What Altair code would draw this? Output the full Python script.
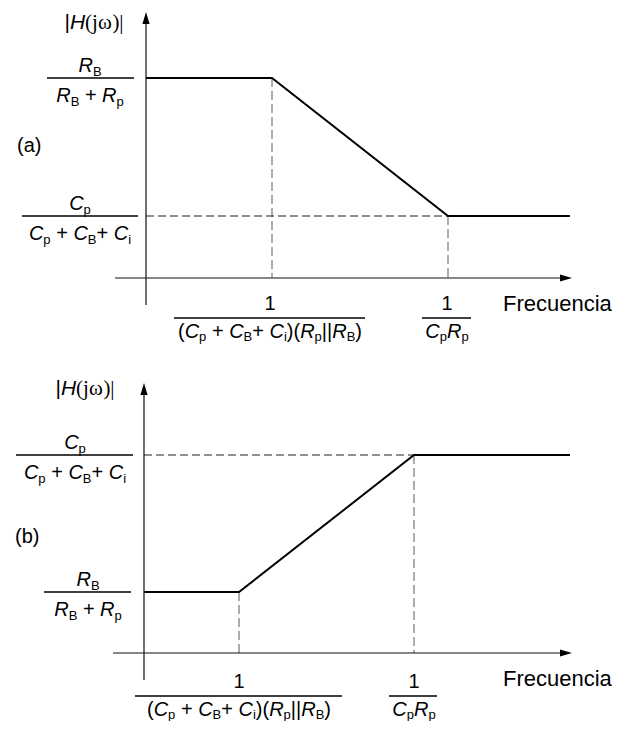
import altair as alt
import pandas as pd

# ---------------- canvas ----------------
W, H = 621, 713
M = 8
FONT = "Liberation Sans"
SERIF = "Liberation Serif"

# ---------------- diagram data (figure units) ----------------
panels = ["a", "b"]
panel_tags = ["(a)", "(b)"]
yaxis_x = [146, 144]
yaxis_bottom = [305, 680]
yaxis_top = [12, 383]
xaxis_y = [278, 653]
xaxis_left = [115, 113]
xaxis_right = [572, 572]
# asymptotic |H| curve: start, break 1, break 2, end
curve_x = [[146, 272, 448, 570], [144, 239, 414, 570]]
curve_y = [[78, 78, 216, 216], [592, 592, 455, 455]]

# ---------------- text content ----------------
H_LABEL = [("|", "n"), ("H", "i"), ("(j", "r"), ("\u03c9", "r"), (")|", "r")]
RB_NUM = [("R", "i"), ("B", "s")]
RB_DEN = [("R", "i"), ("B", "s"), (" + ", "n"), ("R", "i"), ("p", "s")]
CP_NUM = [("C", "i"), ("p", "s")]
CP_DEN = [("C", "i"), ("p", "s"), (" + ", "n"), ("C", "i"), ("B", "s"),
          ("+ ", "n"), ("C", "i"), ("i", "s")]
ONE = [("1", "n")]
F1_DEN = [("(", "n"), ("C", "i"), ("p", "s"), (" + ", "n"), ("C", "i"), ("B", "s"),
          ("+ ", "n"), ("C", "i"), ("i", "s"), (")(", "n"), ("R", "i"), ("p", "s"),
          ("||", "n"), ("R", "i"), ("B", "s"), (")", "n")]
F2_DEN = [("C", "i"), ("p", "s"), ("R", "i"), ("p", "s")]
x_title = "Frecuencia"

# level labels per panel: (numerator, denominator, centre x, bar y, bar x0, bar x1)
level_labels = [
    [(RB_NUM, RB_DEN, 90, 78, 47, 134), (CP_NUM, CP_DEN, 80, 216, 22, 138)],
    [(CP_NUM, CP_DEN, 75, 455, 16, 133), (RB_NUM, RB_DEN, 88, 592, 44, 131)],
]
# frequency labels per panel: (denominator, centre x, bar y, bar x0, bar x1)
freq_labels = [
    [(F1_DEN, 270, 318, 174, 365), (F2_DEN, 447, 318, 422, 471)],
    [(F1_DEN, 239, 696, 135, 342), (F2_DEN, 414, 696, 389, 437)],
]
hlabel_pos = [(94, 29), (85, 395)]
tag_pos = [(17, 152), (15, 543)]
xtitle_pos = [(503, 311), (503, 686)]

# ---------------- text layout helpers ----------------
SANS_W = {" ": 278, "(": 333, ")": 333, "+": 584, "1": 556, "|": 260, "B": 667,
          "C": 722, "H": 722, "R": 722, "p": 556, "i": 222, "j": 222, "a": 556,
          "b": 556}
SERIF_W = {"(": 333, ")": 333, "j": 278, "\u03c9": 690, "|": 200, " ": 250}
MAIN, SUB, SUB_DY = 20, 13, 4


def piece_width(t, size, style):
    table = SERIF_W if style == "r" else SANS_W
    return sum(table.get(c, 556) for c in t) * size / 1000.0


def layout(pieces, cx, baseline, size=MAIN, sub_dy=SUB_DY):
    sizes = [SUB if st == "s" else size for _, st in pieces]
    total = sum(piece_width(t, s, st) for (t, st), s in zip(pieces, sizes))
    x = cx - total / 2.0
    rows = []
    for (t, st), s in zip(pieces, sizes):
        lead = len(t) - len(t.lstrip(" "))
        core = t.strip(" ")
        if core:
            rows.append(dict(x=x + piece_width(" " * lead, s, st),
                             y=baseline + (sub_dy if st == "s" else 0),
                             text=core, size=s, style=st))
        x += piece_width(t, s, st)
    return rows


text_rows = []
bars = []
for p in range(2):
    text_rows += layout(H_LABEL, *hlabel_pos[p], size=21)
    text_rows.append(dict(x=tag_pos[p][0], y=tag_pos[p][1], text=panel_tags[p],
                          size=MAIN, style="n"))
    text_rows.append(dict(x=xtitle_pos[p][0], y=xtitle_pos[p][1], text=x_title,
                          size=22, style="n"))
    for num, den, cx, by, x0, x1 in level_labels[p]:
        text_rows += layout(num, cx, by - 6)
        text_rows += layout(den, cx, by + 24)
        bars.append(dict(x=x0, y=by, x2=x1, y2=by))
    for den, cx, by, x0, x1 in freq_labels[p]:
        text_rows += layout(ONE, cx, by - 8)
        text_rows += layout(den, cx, by + 20, sub_dy=3)
        bars.append(dict(x=x0, y=by, x2=x1, y2=by))

tdf = pd.DataFrame(text_rows)

# ---------------- geometry tables ----------------
curve_rows = []
axis_rows = []
hdash_rows = []
vdash_rows = []
arrow_up = []
arrow_right = []
for p in range(2):
    for k, (cx, cy) in enumerate(zip(curve_x[p], curve_y[p])):
        curve_rows.append(dict(panel=panels[p], order=k, x=cx, y=cy))
    axis_rows.append(dict(x=yaxis_x[p], y=yaxis_bottom[p], x2=yaxis_x[p], y2=yaxis_top[p] + 8))
    axis_rows.append(dict(x=xaxis_left[p], y=xaxis_y[p], x2=xaxis_right[p] - 8, y2=xaxis_y[p]))
    hdash_rows.append(dict(x=yaxis_x[p], y=curve_y[p][2], x2=curve_x[p][2], y2=curve_y[p][2]))
    for k in (1, 2):
        vdash_rows.append(dict(x=curve_x[p][k], y=curve_y[p][k], x2=curve_x[p][k], y2=xaxis_y[p]))
    arrow_up.append(dict(x=yaxis_x[p], y=yaxis_top[p] + 6))
    arrow_right.append(dict(x=xaxis_right[p] - 6, y=xaxis_y[p]))

X = alt.X("x:Q", scale=alt.Scale(domain=[M, M + W], nice=False, zero=False), axis=None)
Y = alt.Y("y:Q", scale=alt.Scale(domain=[M, M + H], nice=False, zero=False, reverse=True), axis=None)


def seg_layer(rows, color, width, dash=None):
    kw = dict(color=color, strokeWidth=width)
    if dash:
        kw["strokeDash"] = dash
    return alt.Chart(pd.DataFrame(rows)).mark_rule(**kw).encode(
        x=X, y=Y, x2="x2:Q", y2="y2:Q")


axes = seg_layer(axis_rows, "#111111", 1.2)
hdash = seg_layer(hdash_rows, "#222222", 1.1, [8, 4])
vdash = seg_layer(vdash_rows, "#808080", 1.3, [9, 4])
fbars = seg_layer(bars, "#000000", 1.7)

curve = alt.Chart(pd.DataFrame(curve_rows)).mark_line(
    color="#000000", strokeWidth=2).encode(x=X, y=Y, detail="panel:N", order="order:Q")

up = alt.Chart(pd.DataFrame(arrow_up)).mark_point(
    shape="M0,-1L0.6,1L-0.6,1Z", filled=True, size=144, color="#000000",
    opacity=1, strokeWidth=0).encode(x=X, y=Y)
right = alt.Chart(pd.DataFrame(arrow_right)).mark_point(
    shape="M1,0L-1,0.6L-1,-0.6Z", filled=True, size=144, color="#000000",
    opacity=1, strokeWidth=0).encode(x=X, y=Y)


def text_layer(styles, font, italic=False):
    d = tdf[tdf["style"].isin(styles)]
    kw = dict(align="left", baseline="alphabetic", font=font, color="#000000")
    if italic:
        kw["fontStyle"] = "italic"
    return alt.Chart(d).mark_text(**kw).encode(
        x=X, y=Y, text="text:N", size=alt.Size("size:Q", scale=None))


t_norm = text_layer(["n", "s"], FONT)
t_ital = text_layer(["i"], FONT, italic=True)
t_serif = text_layer(["r"], SERIF)

chart = alt.layer(vdash, hdash, axes, curve, up, right, fbars,
                  t_norm, t_ital, t_serif).properties(
    width=W, height=H, padding=0, autosize=alt.AutoSizeParams(type="none"),
    background="#ffffff"
).configure_view(stroke=None)

chart.save("out.html", embed_options={"renderer": "svg", "actions": False})
